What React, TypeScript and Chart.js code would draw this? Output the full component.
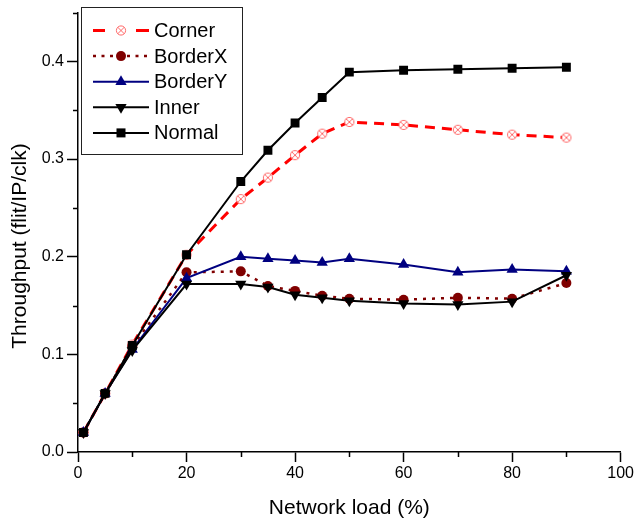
import React, { useEffect, useRef } from "react";
import { Chart, registerables } from "chart.js";

Chart.register(...registerables);

const loads = [1, 5, 10, 20, 30, 35, 40, 45, 50, 60, 70, 80, 90];
const corner = [0.02, 0.06, 0.11, 0.202, 0.259, 0.281, 0.304, 0.326, 0.338, 0.335, 0.33, 0.325, 0.322];
const borderX = [0.02, 0.06, 0.108, 0.184, 0.185, 0.17, 0.165, 0.16, 0.157, 0.156, 0.158, 0.157, 0.173];
const borderY = [0.02, 0.06, 0.105, 0.178, 0.2, 0.198, 0.196, 0.194, 0.198, 0.192, 0.184, 0.187, 0.185];
const inner = [0.02, 0.06, 0.104, 0.172, 0.172, 0.169, 0.161, 0.158, 0.155, 0.152, 0.151, 0.154, 0.181];
const normal = [0.02, 0.06, 0.109, 0.202, 0.277, 0.309, 0.337, 0.363, 0.389, 0.391, 0.392, 0.393, 0.394];

const seriesNames = ["Corner", "BorderX", "BorderY", "Inner", "Normal"];
const xTitle = "Network load (%)";
const yTitle = "Throughput (flit/IP/clk)";
const xMinorTicks = [10, 30, 50, 70, 90];
const yMinorTicks = [0.05, 0.15, 0.25, 0.35, 0.45];

const FONT = "'Liberation Sans', Arial, sans-serif";

function makeCornerMarker(): HTMLCanvasElement {
  const c = document.createElement("canvas");
  c.width = 12;
  c.height = 12;
  const g = c.getContext("2d")!;
  drawCross(g, 6, 6);
  return c;
}

function drawCross(g: CanvasRenderingContext2D, x: number, y: number) {
  const r = 4.6;
  g.save();
  g.fillStyle = "#ffffff";
  g.strokeStyle = "#ff6a6a";
  g.lineWidth = 1;
  g.beginPath();
  g.arc(x, y, r, 0, Math.PI * 2);
  g.fill();
  g.stroke();
  const d = r * 0.72;
  g.beginPath();
  g.moveTo(x - d, y - d);
  g.lineTo(x + d, y + d);
  g.moveTo(x + d, y - d);
  g.lineTo(x - d, y + d);
  g.stroke();
  g.restore();
}

function drawLegendMarker(g: CanvasRenderingContext2D, kind: string, x: number, y: number) {
  g.save();
  if (kind === "cross") {
    drawCross(g, x, y);
  } else if (kind === "circle") {
    g.fillStyle = "#800000";
    g.beginPath();
    g.arc(x, y, 5, 0, Math.PI * 2);
    g.fill();
  } else if (kind === "up") {
    const r = 6.5;
    g.fillStyle = "#000080";
    g.beginPath();
    g.moveTo(x, y - r);
    g.lineTo(x + r * 0.866, y + r * 0.5);
    g.lineTo(x - r * 0.866, y + r * 0.5);
    g.closePath();
    g.fill();
  } else if (kind === "down") {
    const r = 6.5;
    g.fillStyle = "#000";
    g.beginPath();
    g.moveTo(x, y + r);
    g.lineTo(x + r * 0.866, y - r * 0.5);
    g.lineTo(x - r * 0.866, y - r * 0.5);
    g.closePath();
    g.fill();
  } else if (kind === "square") {
    g.fillStyle = "#000";
    g.fillRect(x - 4.5, y - 4.5, 9, 9);
  }
  g.restore();
}

const legendPlugin = {
  id: "customLegend",
  afterDraw(chart: any) {
    const g: CanvasRenderingContext2D = chart.ctx;
    g.save();
    g.fillStyle = "#fff";
    g.fillRect(81.5, 7.5, 161, 147);
    g.strokeStyle = "#222";
    g.lineWidth = 1;
    g.strokeRect(81.5, 7.5, 161, 147);
    const styles = [
      { color: "#ff0000", width: 3, dash: [], marker: "cross", split: true },
      { color: "#800000", width: 2.5, dash: [3, 5.5], marker: "circle", split: false },
      { color: "#000080", width: 2, dash: [], marker: "up", split: false },
      { color: "#000000", width: 2, dash: [], marker: "down", split: false },
      { color: "#000000", width: 2, dash: [], marker: "square", split: false },
    ];
    const x0 = 93, x1 = 149, xm = 121;
    styles.forEach((s, i) => {
      const y = 30.5 + i * 25.6;
      g.strokeStyle = s.color;
      g.lineWidth = s.width;
      g.setLineDash(s.dash);
      g.beginPath();
      if (s.split) {
        g.moveTo(x0, y);
        g.lineTo(x0 + 12, y);
        g.moveTo(x1 - 13, y);
        g.lineTo(x1, y);
      } else {
        g.moveTo(x0, y);
        g.lineTo(x1, y);
      }
      g.stroke();
      g.setLineDash([]);
      drawLegendMarker(g, s.marker, xm, y);
      g.fillStyle = "#000";
      g.font = `20px ${FONT}`;
      g.textBaseline = "middle";
      g.textAlign = "left";
      g.fillText(seriesNames[i], 154, y + 1);
    });
    g.restore();
  },
};

const yTitlePlugin = {
  id: "yTitle",
  afterDraw(chart: any) {
    const g: CanvasRenderingContext2D = chart.ctx;
    g.save();
    g.translate(20, 246);
    g.rotate(-Math.PI / 2);
    g.fillStyle = "#000";
    g.font = `21px ${FONT}`;
    g.textAlign = "center";
    g.textBaseline = "middle";
    g.fillText(yTitle, 0, 0);
    g.restore();
  },
};

const minorTickPlugin = {
  id: "minorTicks",
  afterDraw(chart: any) {
    const g: CanvasRenderingContext2D = chart.ctx;
    const xs = chart.scales.x;
    const ys = chart.scales.y;
    const area = chart.chartArea;
    g.save();
    g.strokeStyle = "#000";
    g.lineWidth = 1.5;
    g.beginPath();
    xMinorTicks.forEach((v) => {
      const px = Math.round(xs.getPixelForValue(v)) + 0.5;
      g.moveTo(px, area.bottom);
      g.lineTo(px, area.bottom + 5);
    });
    yMinorTicks.forEach((v) => {
      const py = Math.round(ys.getPixelForValue(v)) + 0.5;
      g.moveTo(area.left, py);
      g.lineTo(area.left - 5, py);
    });
    g.stroke();
    g.restore();
  },
};

const isMajor = (v: number, step: number) => Math.abs(v / step - Math.round(v / step)) < 1e-6;

export default function App() {
  const ref = useRef<HTMLCanvasElement | null>(null);

  useEffect(() => {
    if (!ref.current) return;
    const cornerImg = makeCornerMarker();
    const pts = (arr: number[]) => loads.map((x, i) => ({ x, y: arr[i] }));
    const chart = new Chart(ref.current, {
      type: "line",
      data: {
        datasets: [
          {
            label: seriesNames[0],
            data: pts(corner),
            borderColor: "#ff0000",
            borderWidth: 3,
            borderDash: [10, 7],
            pointStyle: cornerImg as any,
            pointRadius: 5,
            order: 5,
          },
          {
            label: seriesNames[1],
            data: pts(borderX),
            borderColor: "#800000",
            borderWidth: 2.5,
            borderDash: [3, 6],
            pointStyle: "circle",
            pointRadius: 5,
            pointBackgroundColor: "#800000",
            pointBorderColor: "#800000",
            pointBorderWidth: 0,
            order: 4,
          },
          {
            label: seriesNames[2],
            data: pts(borderY),
            borderColor: "#000080",
            borderWidth: 2,
            pointStyle: "triangle",
            pointRadius: 6.5,
            pointBackgroundColor: "#000080",
            pointBorderColor: "#000080",
            pointBorderWidth: 0,
            order: 3,
          },
          {
            label: seriesNames[3],
            data: pts(inner),
            borderColor: "#000000",
            borderWidth: 2,
            pointStyle: "triangle",
            pointRotation: 180,
            pointRadius: 6.5,
            pointBackgroundColor: "#000000",
            pointBorderColor: "#000000",
            pointBorderWidth: 0,
            order: 2,
          },
          {
            label: seriesNames[4],
            data: pts(normal),
            borderColor: "#000000",
            borderWidth: 2,
            pointStyle: "rect",
            pointRadius: 6.3,
            pointBackgroundColor: "#000000",
            pointBorderColor: "#000000",
            pointBorderWidth: 0,
            order: 1,
          },
        ],
      },
      options: {
        responsive: false,
        animation: false,
        devicePixelRatio: 1,
        layout: { padding: { top: 12, right: 13, left: 0, bottom: 0 } },
        plugins: { legend: { display: false }, tooltip: { enabled: false } },
        scales: {
          x: {
            type: "linear",
            min: 0,
            max: 100,
            border: { color: "#000", width: 1.5 },
            grid: {
              drawOnChartArea: false,
              drawTicks: true,
              tickLength: 10,
              tickWidth: 1.5,
              tickColor: (c: any) => (isMajor(c.tick.value, 20) ? "#000" : "rgba(0,0,0,0)"),
            },
            ticks: {
              stepSize: 10,
              autoSkip: false,
              maxRotation: 0,
              padding: 2,
              color: "#000",
              font: { family: FONT, size: 16 },
              callback: (v: any) => (isMajor(Number(v), 20) ? String(Math.round(Number(v))) : ""),
            },
            title: {
              display: true,
              text: xTitle,
              color: "#000",
              font: { family: FONT, size: 21 },
              padding: { top: 0, bottom: 1.5 },
            },
            afterFit: (s: any) => {
              s.height = 70;
            },
          },
          y: {
            type: "linear",
            min: 0,
            max: 0.45,
            border: { color: "#000", width: 1.5 },
            grid: {
              drawOnChartArea: false,
              drawTicks: true,
              tickLength: 11,
              tickWidth: 1.5,
              tickColor: (c: any) => (isMajor(c.tick.value, 0.1) ? "#000" : "rgba(0,0,0,0)"),
            },
            ticks: {
              stepSize: 0.05,
              autoSkip: false,
              padding: 3,
              color: "#000",
              font: { family: FONT, size: 16 },
              callback: (v: any) => (isMajor(Number(v), 0.1) ? Number(v).toFixed(1) : ""),
            },
            title: { display: false },
            afterFit: (s: any) => {
              s.width = 78;
            },
          },
        },
      },
      plugins: [minorTickPlugin, legendPlugin, yTitlePlugin],
    } as any);
    return () => chart.destroy();
  }, []);

  return (
    <div style={{ position: "fixed", left: 0, top: 0, width: 636, height: 522, background: "#fff" }}>
      <canvas ref={ref} width={636} height={522} style={{ width: 636, height: 522 }} />
    </div>
  );
}
